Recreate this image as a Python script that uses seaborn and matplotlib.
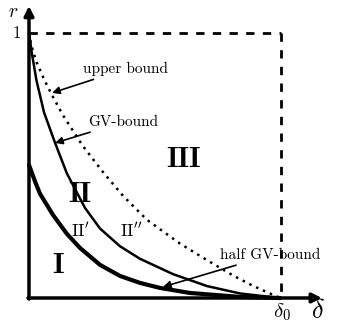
import matplotlib
matplotlib.use("Agg")
import matplotlib.pyplot as plt
import seaborn as sns

# curves (delta scaled so that delta_0 = 1, r in [0, 1])
upper_delta = [0.0, 0.01, 0.03, 0.06, 0.092, 0.135, 0.215, 0.295, 0.375,
               0.470, 0.602, 0.709, 0.813, 0.892, 1.0]
upper_r = [1.0, 0.95, 0.89, 0.825, 0.765, 0.69, 0.573, 0.475, 0.385,
           0.295, 0.205, 0.143, 0.085, 0.046, 0.0]

gv_delta = [0.0, 0.012, 0.03, 0.06, 0.104, 0.151, 0.223, 0.283, 0.363,
            0.442, 0.574, 0.709, 0.841, 1.0]
gv_r = [1.0, 0.92, 0.82, 0.70, 0.585, 0.47, 0.34, 0.262, 0.195,
        0.148, 0.090, 0.045, 0.017, 0.0]

half_delta = [0.0, 0.024, 0.044, 0.096, 0.151, 0.203, 0.283, 0.363, 0.442,
              0.522, 0.641, 0.841, 1.0]
half_r = [0.502, 0.440, 0.393, 0.313, 0.242, 0.189, 0.125, 0.083, 0.057,
          0.038, 0.019, 0.004, 0.0]

box_delta = [0.0, 1.004, 1.004]
box_r = [1.0, 1.0, 0.0]

region_names = ["I", "II", "III"]
region_pos = [(0.116, 0.121), (0.203, 0.389), (0.614, 0.521)]
sub_names = [r"$\mathrm{II}'$", r"$\mathrm{II}''$"]
sub_pos = [(0.207, 0.257), (0.406, 0.257)]

sns.set_style("white")
plt.rcParams["mathtext.fontset"] = "cm"
plt.rcParams["text.color"] = "k"
plt.rcParams["font.family"] = ["cmr10", "DejaVu Serif"]

fig = plt.figure(figsize=(3.37, 3.26), dpi=100)
ax = fig.add_axes([0, 0, 1, 1])
ax.set_xlim(-0.1155, 1.2271)
ax.set_ylim(-0.1057, 1.1245)
ax.axis("off")

# dashed box
dash = (0, (3, 3))
sns.lineplot(x=box_delta[:2], y=box_r[:2], ax=ax, color="k", lw=2,
             linestyle=dash, errorbar=None)
ax.plot(box_delta[1:], box_r[1:], color="k", lw=2, linestyle=dash)

# bounds
sns.lineplot(x=upper_delta, y=upper_r, ax=ax, color="k", lw=1.8,
             linestyle=(0, (1, 2)), errorbar=None)
sns.lineplot(x=gv_delta, y=gv_r, ax=ax, color="k", lw=1.8, errorbar=None)
sns.lineplot(x=half_delta, y=half_r, ax=ax, color="k", lw=3, errorbar=None)

# axes with arrows
axis_kw = dict(arrowstyle="-|>", lw=2.5, color="k", mutation_scale=14,
               shrinkA=0, shrinkB=0)
ax.annotate("", xy=(0, 1.102), xytext=(0, -0.004), arrowprops=axis_kw)
ax.annotate("", xy=(1.167, 0), xytext=(-0.004, 0), arrowprops=axis_kw)

ax.text(-0.064, 1.079, "$r$", fontsize=14, ha="center", va="center")
ax.text(-0.048, 1.0, "1", fontsize=12, ha="center", va="center")
ax.text(1.008, -0.012, r"$\mathbf{\delta_0}$", fontsize=15, ha="center", va="top")
ax.text(1.151, -0.049, r"$\delta$", fontsize=19, ha="center", va="center")

# annotations
arrow_kw = dict(arrowstyle="-|>", lw=1.2, color="k", mutation_scale=11,
                shrinkA=0, shrinkB=0)
ax.annotate("upper bound", xy=(0.092, 0.774), xytext=(0.215, 0.864),
            fontsize=11, va="center", ha="left", arrowprops=arrow_kw)
ax.annotate("GV-bound", xy=(0.104, 0.585), xytext=(0.235, 0.664),
            fontsize=11, va="center", ha="left", arrowprops=arrow_kw)
ax.annotate("half GV-bound", xy=(0.534, 0.042), xytext=(0.761, 0.162),
            fontsize=11, va="center", ha="left", arrowprops=arrow_kw)

for name, (x, y) in zip(region_names, region_pos):
    ax.text(x, y, name, fontsize=21, family="cmb10", ha="center", va="center")
for name, (x, y) in zip(sub_names, sub_pos):
    ax.text(x, y, name, fontsize=13, ha="center", va="center")

fig.savefig("out.png", dpi=100)
